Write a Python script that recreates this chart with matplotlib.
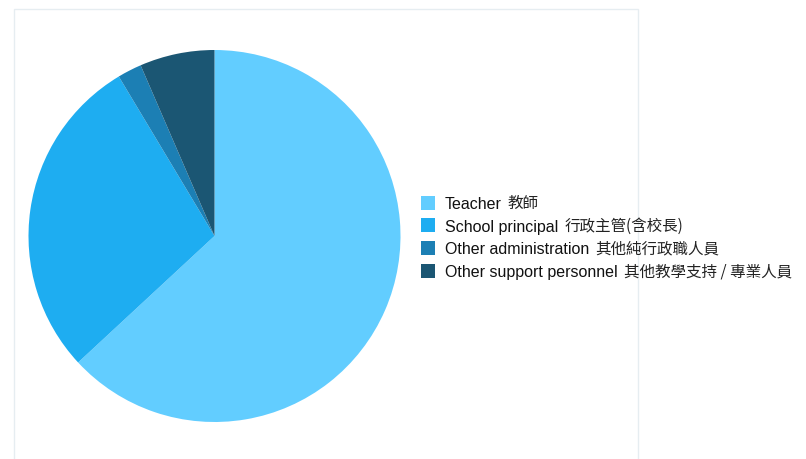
import matplotlib.pyplot as plt
from matplotlib.patches import Rectangle

plt.rcParams['font.family'] = ['Liberation Sans', 'Noto Sans CJK TC', 'DejaVu Sans']

# -------------------------------------------------------
# Dane (udział w %)
# -------------------------------------------------------
labels_en = ["Teacher", "School principal", "Other administration", "Other support personnel"]
labels_zh = ["教師", "行政主管(含校長)", "其他純行政職人員", "其他教學支持 / 專業人員"]
shares = [63.1, 28.3, 2.1, 6.5]
colors = ["#62cdff", "#1eadf1", "#1c7fb4", "#1b5673"]

W, H = 806, 460
fig = plt.figure(figsize=(W / 100, H / 100), dpi=100)

# ramka
fig.patches.append(Rectangle((14 / W, -0.05), (638 - 14) / W, (H - 10) / H + 0.05,
                             transform=fig.transFigure, fill=False,
                             edgecolor="#e6edf1", linewidth=1))

cx, cy, r = 214.5, 237, 186
ax = fig.add_axes([(cx - r) / W, (H - cy - r) / H, 2 * r / W, 2 * r / H])
ax.pie(shares, colors=colors, startangle=90, counterclock=False, radius=1,
       wedgeprops=dict(linewidth=0))
ax.set_xlim(-1, 1)
ax.set_ylim(-1, 1)
ax.set_aspect("equal")
ax.axis("off")

# legenda rysowana ręcznie (piksele -> współrzędne figury)
renderer = fig.canvas.get_renderer()
y0, dy, sq = 203.5, 22.7, 14
for i, (en, zh, c) in enumerate(zip(labels_en, labels_zh, colors)):
    y = y0 + i * dy
    fig.patches.append(Rectangle((421 / W, (H - y - sq / 2) / H), sq / W, sq / H,
                                 transform=fig.transFigure, facecolor=c, edgecolor="none"))
    t = fig.text(445 / W, (H - y - 5.5) / H, en, fontsize=11.5, color="#111111",
                 va="baseline", ha="left", family="Liberation Sans")
    x1 = t.get_window_extent(renderer).x1
    fig.text((x1 + 6) / W, (H - y - 4.5) / H, zh, fontsize=11.2, color="#222222",
             va="baseline", ha="left", family=["Noto Sans CJK TC", "DejaVu Sans"])

fig.savefig("out.png", dpi=100)
